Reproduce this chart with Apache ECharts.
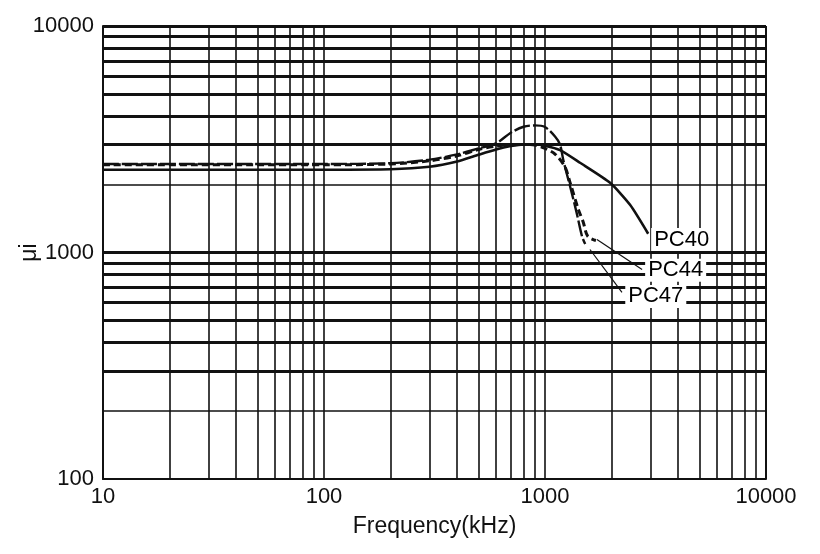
<!DOCTYPE html>
<html>
<head>
<meta charset="utf-8">
<script src="https://cdn.jsdelivr.net/npm/echarts@6/dist/echarts.min.js"></script>
<style>html,body{margin:0;padding:0;background:#fff}#c{width:820px;height:554px}</style>
</head>
<body>
<div id="c"></div>
<script>
// Frequency (kHz) vs initial permeability
var pc40 = [[10,2320],[100,2320],[200,2330],[300,2390],[400,2520],[500,2700],[600,2850],[700,2950],[800,3000],[900,3000],[1000,2960],[1170,2830],[1440,2490],[1970,2030],[2430,1620],[2930,1210]];
var pc44 = [[10,2440],[100,2440],[200,2460],[300,2540],[400,2670],[500,2850],[600,2950],[700,3000],[800,3000],[900,2980],[1000,2880],[1110,2720],[1230,2390],[1300,2030],[1415,1550],[1490,1360],[1560,1180],[1700,1130]];
var pc47 = [[10,2460],[100,2460],[200,2480],[300,2570],[400,2710],[500,2880],[600,3030],[700,3380],[800,3590],[900,3640],[1000,3580],[1110,3250],[1170,2990],[1210,2560],[1300,1950],[1390,1500],[1470,1180],[1520,1090]];
var leader44 = [[1718,1141],[2750,841]];
var leader47 = [[1598,1031],[2230,666]];
var seriesLabels = [[2960,1140,'PC40'],[2780,835,'PC44'],[2260,640,'PC47']];
var xTicks = [10,100,1000,10000];
var yTicks = [100,1000,10000];
var xGrid = [20,30,40,50,60,70,80,90,100,200,300,400,500,600,700,800,900,1000,2000,3000,4000,5000,6000,7000,8000,9000,10000];
var yGridThick = [300,400,500,600,700,800,900,1000,3000,4000,5000,6000,7000,8000,9000,10000];
var yGridThin = [200,2000];

var FONT = 'Liberation Sans, Arial, Helvetica, sans-serif';
var INK = '#111';

var gridLines = [];
xGrid.forEach(function(v){ gridLines.push({xAxis: v, lineStyle:{width: v===10000 ? 2 : 1.6, color: INK, type:'solid'}}); });
yGridThick.forEach(function(v){ gridLines.push({yAxis: v, lineStyle:{width: 3, color: INK, type:'solid'}}); });
yGridThin.forEach(function(v){ gridLines.push({yAxis: v, lineStyle:{width: 1.6, color: INK, type:'solid'}}); });

var chart = echarts.init(document.getElementById('c'), null, {renderer:'canvas'});
chart.setOption({
  backgroundColor: '#fff',
  animation: false,
  grid: {left: 103, right: 54, top: 26, bottom: 75, containLabel: false, outerBoundsMode: 'none'},
  xAxis: {
    type: 'log', logBase: 10, min: 10, max: 10000,
    name: 'Frequency(kHz)', nameLocation: 'middle', nameGap: 36,
    nameTextStyle: {fontFamily: FONT, fontSize: 23, color: INK},
    axisLine: {show: true, lineStyle: {color: INK, width: 2}},
    axisTick: {show: false},
    splitLine: {show: false},
    minorTick: {show: false},
    axisLabel: {fontFamily: FONT, fontSize: 22, color: INK, margin: 7,
      customValues: xTicks,
      formatter: function(v){ return String(Math.round(v)); }}
  },
  yAxis: {
    type: 'log', logBase: 10, min: 100, max: 10000,
    name: 'μi', nameLocation: 'middle', nameGap: 62, nameRotate: 90, nameMoveOverlap: false,
    nameTextStyle: {fontFamily: FONT, fontSize: 23, color: INK},
    axisLine: {show: true, lineStyle: {color: INK, width: 2}},
    axisTick: {show: false},
    splitLine: {show: false},
    axisLabel: {fontFamily: FONT, fontSize: 22, color: INK, margin: 9,
      customValues: yTicks,
      formatter: function(v){ return String(Math.round(v)); }}
  },
  series: [
    {type: 'line', data: [], silent: true, z: 1,
     markLine: {silent: true, symbol: ['none','none'], label: {show: false}, animation: false, data: gridLines}},
    {name: 'PC40', type: 'line', data: pc40, smooth: 0.2, showSymbol: false, z: 3,
     lineStyle: {color: INK, width: 2.6, type: 'solid'}},
    {name: 'PC44', type: 'line', data: pc44, smooth: 0.3, showSymbol: false, z: 3,
     lineStyle: {color: INK, width: 3, type: [7,4]}},
    {name: 'PC47', type: 'line', data: pc47, smooth: 0.3, showSymbol: false, z: 3,
     lineStyle: {color: INK, width: 2.4, type: [16,3]}},
    {type: 'line', data: leader44, showSymbol: false, z: 3, lineStyle: {color: INK, width: 1.2}},
    {type: 'line', data: leader47, showSymbol: false, z: 3, lineStyle: {color: INK, width: 1.2}},
    {type: 'scatter', symbolSize: 0, z: 5, itemStyle: {opacity: 1},
     data: seriesLabels.map(function(d){ return {value: [d[0], d[1]], name: d[2]}; }),
     label: {show: true, position: 'right', distance: 2, formatter: '{b}', opacity: 1,
       fontFamily: FONT, fontSize: 22, color: '#000', backgroundColor: '#fff', padding: [1,3,0,3]}}
  ]
});
</script>
</body>
</html>
